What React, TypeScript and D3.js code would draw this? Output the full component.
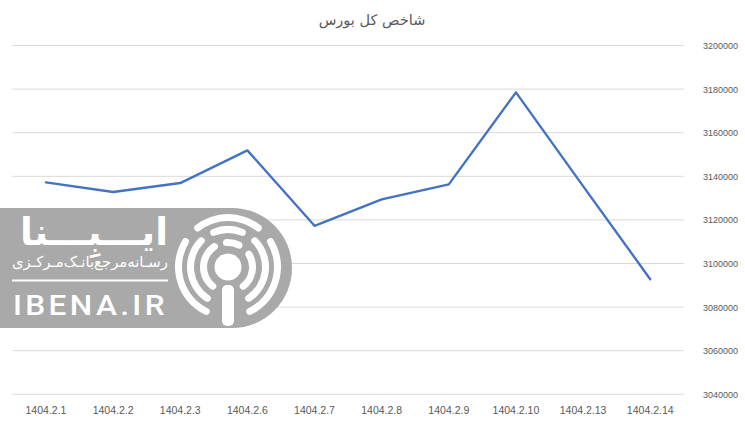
import React, { useLayoutEffect, useRef } from "react";
import * as d3 from "d3";

const categories = ["1404.2.1", "1404.2.2", "1404.2.3", "1404.2.6", "1404.2.7", "1404.2.8", "1404.2.9", "1404.2.10", "1404.2.13", "1404.2.14"];
const values = [3137200, 3132800, 3136900, 3151900, 3117300, 3129400, 3136300, 3178500, 3135500, 3092800];
const yTicks = [3040000, 3060000, 3080000, 3100000, 3120000, 3140000, 3160000, 3180000, 3200000];
const title = "شاخص کل بورس";

const W = 745;
const H = 421;

function FitText({ x, y, width, children, ...rest }: any) {
  const ref = useRef<SVGTextElement>(null);
  useLayoutEffect(() => {
    const el = ref.current;
    if (!el) return;
    el.removeAttribute("transform");
    const len = el.getComputedTextLength();
    if (len > 0) {
      const s = width / len;
      el.setAttribute("transform", `translate(${x},${y}) scale(${s},1) translate(${-x},${-y})`);
    }
  }, [x, y, width]);
  return (
    <text ref={ref} x={x} y={y} {...rest}>
      {children}
    </text>
  );
}

function Watermark() {
  const cx = 228;
  const cy = 267;
  const top = 208;
  const bot = 328;
  const R = (bot - top) / 2;
  const ccx = 292 - R;
  const path = `M0,${top} L${ccx},${top} A${R},${R} 0 0 1 ${ccx},${bot} L0,${bot} Z`;
  const rings: { r0: number; r1: number; segs: [number, number][] }[] = [
    { r0: 21, r1: 28, segs: [[-150, -25], [-12, 35], [50, 150]] },
    { r0: 34, r1: 41, segs: [[-152, -40], [-28, 28], [40, 152]] },
    { r0: 46, r1: 53, segs: [[-158, -55], [-42, 42], [55, 158]] },
  ];
  const arc = d3.arc<any>().cornerRadius(3.5);
  const toRad = (d: number) => (d * Math.PI) / 180;
  return (
    <g>
      <path d={path} fill="#a3a3a3" opacity={0.93} />
      {rings.map((rg, i) =>
        rg.segs.map((s, j) => (
          <path
            key={`${i}-${j}`}
            transform={`translate(${cx},${cy})`}
            d={arc({ innerRadius: rg.r0, outerRadius: rg.r1, startAngle: toRad(s[0]), endAngle: toRad(s[1]) }) || ""}
            fill="#ffffff"
          />
        ))
      )}
      <circle cx={cx} cy={cy} r={13.5} fill="#ffffff" />
      <rect x={cx - 6} y={285} width={12} height={41} rx={5} fill="#ffffff" />
      <FitText x={20} y={245} width={148} fill="#ffffff" fontFamily="DejaVu Sans" fontWeight="bold" fontSize={38}>
        ایـــبِـــنا
      </FitText>
      <FitText x={12} y={267} width={156} fill="#ffffff" fontFamily="DejaVu Sans" fontSize={15}>
        رسـانه‌مرجع‌بانـک‌مـرکـزی
      </FitText>
      <rect x={12} y={279.5} width={156} height={2} fill="#ffffff" />
      <FitText x={13} y={315} width={155} fill="#ffffff" fontFamily="Roboto" fontWeight={500} fontSize={28} letterSpacing={3}>
        IBENA.IR
      </FitText>
    </g>
  );
}

export default function App() {
  const left = 12.4;
  const right = 683.8;
  const yTop = 45.5;
  const yBot = 394.3;
  const x = d3.scaleBand<string>().domain(categories).range([left, right]);
  const y = d3.scaleLinear().domain([3040000, 3200000]).range([yBot, yTop]);
  const line = d3
    .line<number>()
    .x((_, i) => (x(categories[i]) as number) + x.bandwidth() / 2)
    .y((d) => y(d));
  const font = "'Liberation Sans', Arial, sans-serif";
  return (
    <svg width={W} height={H} style={{ position: "absolute", left: 0, top: 0, background: "#ffffff" }}>
      <rect x={0} y={0} width={W} height={H} fill="#ffffff" />
      <text x={372} y={25} textAnchor="middle" fontFamily="DejaVu Sans" fontSize={14.5} fill="#595959">
        {title}
      </text>
      {yTicks.map((t) => (
        <g key={t}>
          <line x1={left} x2={right} y1={y(t)} y2={y(t)} stroke="#d9d9d9" strokeWidth={1} />
          <text x={703} y={y(t) + 3.5} fontFamily={font} fontSize={9} fill="#595959">
            {t}
          </text>
        </g>
      ))}
      {categories.map((c) => (
        <text key={c} x={(x(c) as number) + x.bandwidth() / 2} y={413.5} textAnchor="middle" fontFamily={font} fontSize={10.5} fill="#595959">
          {c}
        </text>
      ))}
      <path d={line(values) || ""} fill="none" stroke="#4472c4" strokeWidth={2.4} strokeLinejoin="round" strokeLinecap="round" />
      <Watermark />
    </svg>
  );
}
